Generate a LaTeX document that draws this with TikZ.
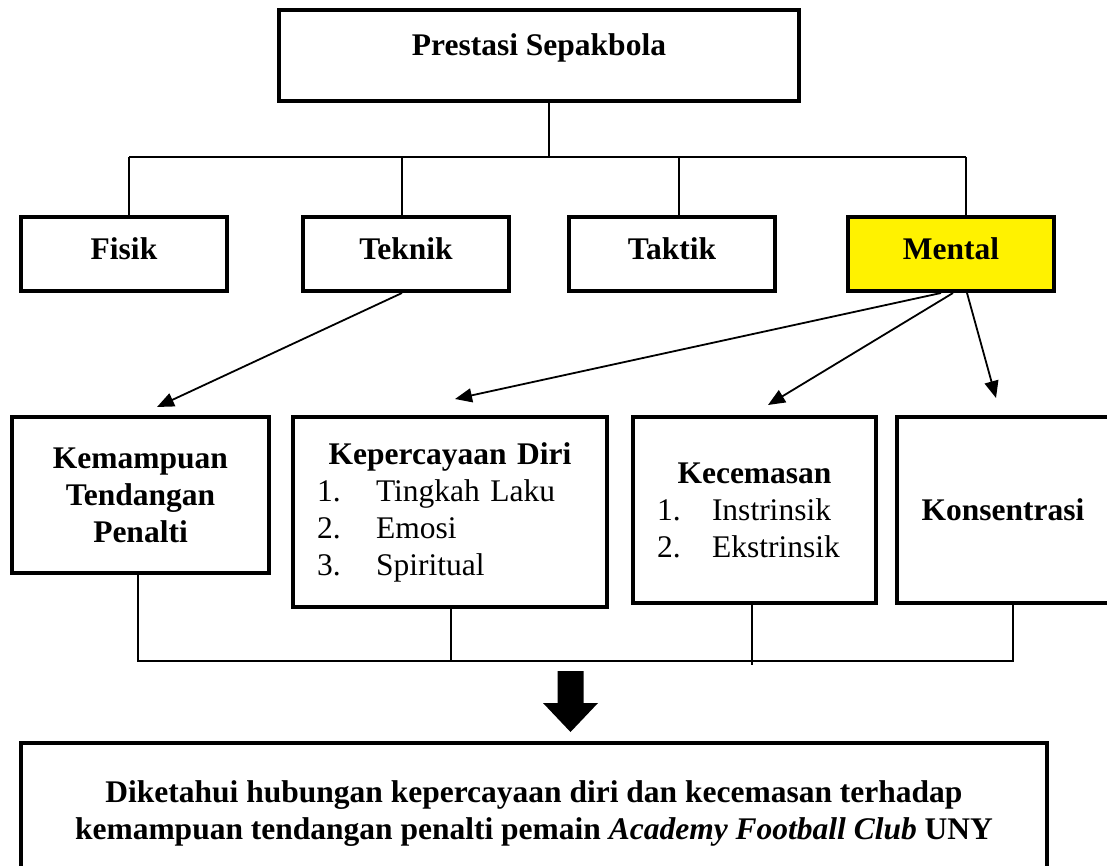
\documentclass[tikz,border=0pt]{standalone}
\usepackage{fontspec}
\setmainfont{Liberation Serif}
\usetikzlibrary{arrows.meta,calc}

\newcommand{\nomor}[2]{\makebox[#1][l]{#2}}

\begin{document}
\begin{tikzpicture}[x=1pt,y=-1pt,
	font=\fontsize{31.5}{37}\selectfont\bfseries,
	box/.style={draw,line width=4pt,inner sep=0pt},
	kotak/.style={box,minimum width=206pt,minimum height=74pt,text height=22pt,text depth=11pt},
	garis/.style={line width=1.3pt},
	panah/.style={line width=1.8pt,-{Triangle[length=17pt,width=14pt]}}]
	\useasboundingbox (0,0) rectangle (1107,866);
	% puncak
	\node[box,minimum width=520pt,minimum height=91pt,text height=22pt,text depth=22pt] (prestasi) at (539,55.5) {Prestasi Sepakbola};
	% baris kedua
	\node[kotak] (fisik) at (124,254) {Fisik};
	\node[kotak] (teknik) at (406,254) {Teknik};
	\node[kotak] (taktik) at (672,254) {Taktik};
	\node[kotak,fill=yellow] (mental) at (951,254) {Mental};
	\coordinate (bus) at (549,157);
	\coordinate (b1) at (129,157);
	\coordinate (b2) at (402,157);
	\coordinate (b3) at (679,157);
	\coordinate (b4) at (966,157);
	\draw[garis] (bus |- prestasi.south) -- (bus);
	\draw[garis] (b1) -- (b4);
	\draw[garis] (b1) -- (b1 |- fisik.north);
	\draw[garis] (b2) -- (b2 |- teknik.north);
	\draw[garis] (b3) -- (b3 |- taktik.north);
	\draw[garis] (b4) -- (b4 |- mental.north);
	% baris ketiga
	\node[box,minimum width=257pt,minimum height=156pt,align=center] (kemampuan) at (140.5,495) {Kemampuan\\Tendangan\\Penalti};
	\node[box,minimum width=314pt,minimum height=190pt,inner xsep=24pt,text width=266pt,align=left] (percaya) at (450,512)
		{\makebox[\linewidth]{Kepercayaan Diri}\\ \mdseries\nomor{59pt}{1.}Tingkah Laku\\ \nomor{59pt}{2.}Emosi\\ \nomor{59pt}{3.}Spiritual};
	\node[box,minimum width=243pt,minimum height=186pt,inner xsep=24pt,text width=195pt,align=left] (cemas) at (754.5,510)
		{\makebox[\linewidth]{Kecemasan}\\ \mdseries\nomor{55pt}{1.}Instrinsik\\ \nomor{55pt}{2.}Ekstrinsik};
	\node[box,minimum width=212pt,minimum height=186pt] (konsentrasi) at (1003,510) {Konsentrasi};
	\coordinate (u1) at (157,407);
	\coordinate (u2) at (455,399);
	\coordinate (u3) at (768,405);
	\coordinate (u4) at (996,398);
	\draw[panah] ($(teknik.south)+(-4,0)$) -- (u1);
	\draw[panah] ($(mental.south)+(-10,0)$) -- (u2);
	\draw[panah] ($(mental.south)+(2,0)$) -- (u3);
	\draw[panah] ($(mental.south)+(16,0)$) -- (u4);
	% gabungan bawah
	\coordinate (c1) at (138,661);
	\coordinate (c2) at (451,661);
	\coordinate (c3) at (752,661);
	\coordinate (c4) at (1013,661);
	\draw[garis] (c1 |- kemampuan.south) -- (c1) -- (c4) -- (c4 |- konsentrasi.south);
	\draw[garis] (c2 |- percaya.south) -- (c2);
	\draw[garis] (c3 |- cemas.south) -- ($(c3)+(0,4)$);
	% panah blok
	\coordinate (ujung) at (570.5,732);
	\fill (ujung) -- ++(27.5,-29) -- ++(-14.5,0) -- ++(0,-32) -- ++(-26,0) -- ++(0,32) -- ++(-14.5,0) -- cycle;
	\node[box,minimum width=1026pt,minimum height=142pt,align=center] (simpulan) at (534,814)
		{Diketahui hubungan kepercayaan diri dan kecemasan terhadap\\kemampuan tendangan penalti pemain \textit{Academy Football Club} UNY};
\end{tikzpicture}
\end{document}
